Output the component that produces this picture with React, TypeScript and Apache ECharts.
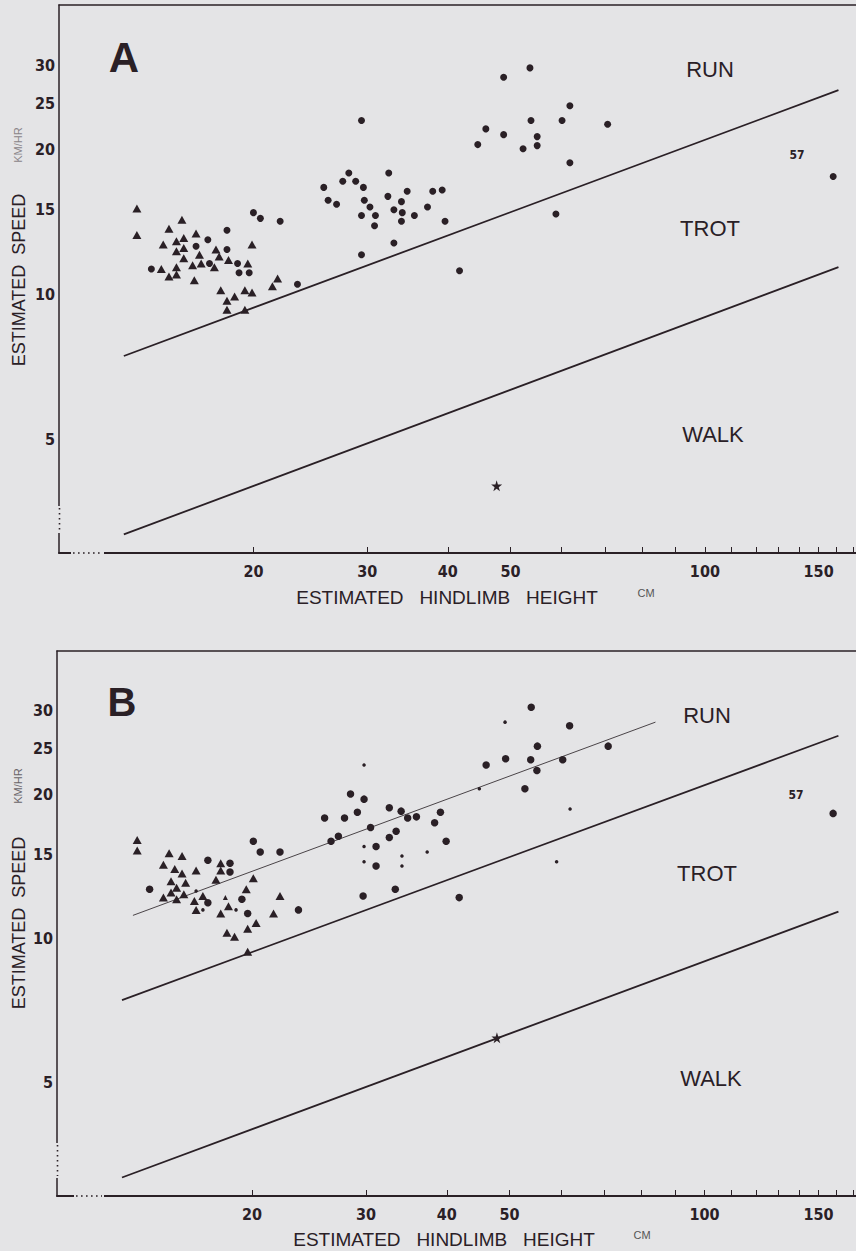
import React, { useEffect, useRef } from 'react';
import * as echarts from 'echarts';

// ---- axis ticks ----
const xTickLabels = [20, 30, 40, 50, 100, 150];
const xTickMarks = [20, 30, 40, 50, 60, 70, 80, 90, 100, 110, 120, 130, 140, 150, 160, 170];
const yTickLabels = [5, 10, 15, 20, 25, 30];

// ---- panel A ----
const aTriangles = [
  [13.2, 15.1], [15.5, 14.3], [14.8, 13.7], [13.2, 13.3], [16.3, 13.4], [15.6, 13.1], [15.2, 12.9],
  [14.5, 12.7], [15.6, 12.5], [15.2, 12.3], [17.5, 12.4], [16.5, 12.1], [15.6, 11.9], [17.7, 12.0],
  [18.3, 11.8], [16.1, 11.5], [16.6, 11.6], [15.2, 11.4], [14.4, 11.3], [17.4, 11.4], [19.6, 11.6],
  [14.8, 10.9], [15.2, 11.0], [16.2, 10.7], [19.9, 12.7], [21.8, 10.8], [21.4, 10.4], [17.8, 10.2],
  [19.4, 10.2], [19.9, 10.1], [18.7, 9.9], [18.2, 9.7], [18.2, 9.3], [19.4, 9.3],
];
const aCircles = [
  [20.0, 14.8], [20.5, 14.4], [22.0, 14.2], [18.2, 13.6], [17.0, 13.0], [16.3, 12.6], [18.2, 12.4],
  [17.1, 11.6], [18.9, 11.6], [13.9, 11.3], [19.0, 11.1], [19.7, 11.1], [23.4, 10.5],
  [29.4, 23.0], [28.1, 17.9], [32.4, 17.9], [27.5, 17.2], [28.8, 17.2], [29.6, 16.7], [25.7, 16.7],
  [34.6, 16.4], [37.9, 16.4], [39.2, 16.5], [26.1, 15.7], [26.9, 15.4], [29.7, 15.7], [32.3, 16.0],
  [33.9, 15.6], [30.3, 15.2], [33.0, 15.0], [34.0, 14.8], [37.2, 15.2], [29.4, 14.6], [30.9, 14.6],
  [35.5, 14.6], [33.9, 14.2], [30.8, 13.9], [39.6, 14.2], [33.0, 12.8], [29.4, 12.1], [41.7, 11.2],
  [53.6, 29.6], [48.8, 28.3], [61.8, 24.7], [53.8, 23.0], [60.1, 23.0], [70.7, 22.6], [45.8, 22.1],
  [48.8, 21.5], [55.0, 21.3], [44.5, 20.5], [55.0, 20.4], [52.3, 20.1], [61.8, 18.8], [58.8, 14.7],
  [158, 17.6],
];
const aStar = [[47.6, 4.0]];

// ---- panel B ----
const bTriangles = [
  [13.3, 16.1], [13.3, 15.3], [14.9, 15.1], [15.6, 14.9], [14.6, 14.3], [15.2, 14.0], [15.6, 13.7],
  [16.4, 13.9], [17.9, 14.4], [17.9, 13.9], [15.0, 13.2], [15.8, 13.1], [17.6, 13.3], [15.3, 12.8],
  [15.0, 12.5], [15.7, 12.4], [14.6, 12.2], [15.3, 12.1], [16.8, 12.3], [16.3, 12.0], [16.4, 11.5],
  [17.9, 11.3], [18.4, 11.7], [20.1, 13.4], [19.6, 12.7], [22.1, 12.3], [21.6, 11.3], [19.7, 10.5],
  [20.3, 10.8], [18.3, 10.3], [18.8, 10.1], [19.7, 9.4],
];
const bSmallTriangles = [[18.2, 12.2]];
const bCircles = [
  [20.1, 16.0], [20.6, 15.2], [22.1, 15.2], [17.1, 14.6], [18.5, 14.4], [18.5, 13.8], [13.9, 12.7],
  [17.1, 11.9], [19.3, 12.1], [19.7, 11.3], [23.6, 11.5],
  [28.4, 20.1], [29.8, 19.6], [32.6, 18.8], [34.0, 18.5], [25.9, 17.9], [27.8, 17.9], [29.1, 18.4],
  [34.8, 17.9], [35.9, 18.0], [39.1, 18.4], [30.5, 17.1], [38.3, 17.5], [27.2, 16.4], [26.5, 16.0],
  [33.4, 16.8], [32.6, 16.3], [39.9, 16.0], [31.1, 15.6], [31.1, 14.2], [33.3, 12.7], [29.7, 12.3],
  [41.8, 12.2],
  [54.0, 30.5], [61.9, 27.9], [55.2, 25.3], [71.0, 25.3], [46.0, 23.1], [49.3, 23.8], [53.9, 23.7],
  [60.4, 23.7], [55.1, 22.5], [52.8, 20.6], [158, 18.3],
];
const bSmallDots = [
  [16.4, 12.6], [16.8, 11.5], [18.9, 11.5], [29.8, 23.1], [29.8, 15.6], [29.8, 14.5], [34.1, 14.9],
  [34.1, 14.2], [37.3, 15.2], [49.2, 28.4], [44.9, 20.6], [62.0, 18.7], [59.1, 14.5],
];
const bStar = [[47.8, 6.21]];

// ---- boundary / fitted lines ----
const runTrotLine = [[12.6, 7.45], [161, 26.6]];
const trotWalkLine = [[12.6, 3.17], [161, 11.4]];
const bFitLine = [[13.1, 11.2], [84, 28.4]];

const INK = '#2a2026';
const BG = '#e4e4e6';
const NARROW = "'Liberation Sans Narrow', 'DejaVu Sans Condensed', 'Arial Narrow', sans-serif";
const SANS = "'Liberation Sans', Arial, Helvetica, sans-serif";
const STAR = 'path://M50,0 L61,35 L98,35 L68,57 L79,91 L50,70 L21,91 L32,57 L2,35 L39,35 Z';
const X_MAX = 172;

function makeXAxis(gridIndex: number) {
  return {
    type: 'log', logBase: 10, gridIndex, min: 10, max: X_MAX, position: 'bottom',
    axisLine: { show: true, lineStyle: { color: INK, width: 2 } },
    axisTick: { show: true, inside: true, length: 6, customValues: xTickMarks, lineStyle: { color: INK, width: 1 } },
    axisLabel: {
      show: true, customValues: xTickLabels, margin: 10, color: INK,
      fontSize: 16, fontWeight: 'bold', fontFamily: NARROW,
    },
    splitLine: { show: false }, minorTick: { show: false },
  };
}
function makeTopFrame(gridIndex: number) {
  return {
    type: 'log', logBase: 10, gridIndex, min: 10, max: X_MAX, position: 'top',
    axisLine: { show: true, lineStyle: { color: INK, width: 1.5 } },
    axisTick: { show: false }, axisLabel: { show: false },
    splitLine: { show: false }, minorTick: { show: false },
  };
}
function makeYAxis(gridIndex: number) {
  return {
    type: 'log', logBase: 10, gridIndex, min: 2.9, max: 40,
    axisLine: { show: true, lineStyle: { color: INK, width: 1.5 } },
    axisTick: { show: false },
    axisLabel: {
      show: true, customValues: yTickLabels, margin: 4, color: INK,
      fontSize: 16, fontWeight: 'bold', fontFamily: NARROW,
    },
    splitLine: { show: false },
  };
}

function scatter(data: number[][], idx: number, symbol: string, size: any) {
  return {
    type: 'scatter', xAxisIndex: idx, yAxisIndex: idx, data, symbol, symbolSize: size,
    itemStyle: { color: INK, opacity: 1 }, silent: true, z: 5,
  };
}
function line(data: number[][], idx: number, width: number, color: string) {
  return {
    type: 'line', xAxisIndex: idx, yAxisIndex: idx, data, showSymbol: false, symbol: 'none',
    lineStyle: { color, width }, silent: true, z: 3,
  };
}

function txt(text: string, x: number, y: number, size: number, opts: any = {}) {
  return {
    type: 'text', x, y, z: 100, rotation: opts.rotation || 0,
    style: {
      text, fill: opts.color || INK, fontSize: size, fontFamily: opts.family || SANS,
      fontWeight: opts.weight || 'normal', align: 'center', verticalAlign: 'middle',
    },
  };
}

function axisBreaks(axisX: number, gapTop: number, gapBottom: number, baseY: number, gapLeft: number, gapRight: number) {
  return [
    { type: 'rect', z: 100, shape: { x: axisX - 3, y: gapTop, width: 6, height: gapBottom - gapTop }, style: { fill: BG } },
    { type: 'line', z: 101, shape: { x1: axisX, y1: gapTop + 2, x2: axisX, y2: gapBottom - 2 }, style: { stroke: INK, lineWidth: 1.6, lineDash: [1.6, 3.4] } },
    { type: 'rect', z: 100, shape: { x: gapLeft, y: baseY - 3, width: gapRight - gapLeft, height: 6 }, style: { fill: BG } },
    { type: 'line', z: 101, shape: { x1: gapLeft + 2, y1: baseY, x2: gapRight - 2, y2: baseY }, style: { stroke: INK, lineWidth: 1.6, lineDash: [1.6, 3.4] } },
  ];
}

export default function App() {
  const ref = useRef<HTMLDivElement>(null);
  useEffect(() => {
    const chart = echarts.init(ref.current!, null, { renderer: 'svg' });
    const option: any = {
      animation: false,
      backgroundColor: BG,
      grid: [
        { left: 59, top: 5, width: 798, height: 548, show: false, containLabel: false, outerBoundsMode: 'none' },
        { left: 57, top: 651, width: 800, height: 545, show: false, containLabel: false, outerBoundsMode: 'none' },
      ],
      xAxis: [makeXAxis(0), makeXAxis(1), makeTopFrame(0), makeTopFrame(1)],
      yAxis: [makeYAxis(0), makeYAxis(1)],
      series: [
        line(runTrotLine, 0, 1.8, INK),
        line(trotWalkLine, 0, 1.8, INK),
        scatter(aTriangles, 0, 'triangle', [9, 8]),
        scatter(aCircles, 0, 'circle', 7),
        scatter(aStar, 0, STAR, 11),
        line(runTrotLine, 1, 1.8, INK),
        line(trotWalkLine, 1, 1.8, INK),
        line(bFitLine, 1, 1, '#4a4448'),
        scatter(bTriangles, 1, 'triangle', [9, 8]),
        scatter(bSmallTriangles, 1, 'triangle', [5, 5]),
        scatter(bCircles, 1, 'circle', 7.5),
        scatter(bSmallDots, 1, 'circle', 3.5),
        scatter(bStar, 1, STAR, 11),
      ],
      graphic: [
        txt('A', 124, 57, 42, { weight: 'bold' }),
        txt('B', 122, 702, 40, { weight: 'bold' }),
        txt('RUN', 710, 69, 22),
        txt('TROT', 710, 228, 22),
        txt('WALK', 713, 434, 22),
        txt('57', 797, 155, 12, { family: NARROW, weight: 'bold' }),
        txt('RUN', 707, 715, 22),
        txt('TROT', 707, 873, 22),
        txt('WALK', 711, 1078, 22),
        txt('57', 796, 795, 12, { family: NARROW, weight: 'bold' }),
        txt('ESTIMATED  SPEED', 19, 280, 18, { rotation: Math.PI / 2 }),
        txt('KM/HR', 18, 145, 11, { rotation: Math.PI / 2, color: '#8a8589' }),
        txt('ESTIMATED  SPEED', 19, 923, 18, { rotation: Math.PI / 2 }),
        txt('KM/HR', 18, 786, 11, { rotation: Math.PI / 2, color: '#6a6569' }),
        txt('ESTIMATED   HINDLIMB   HEIGHT', 447, 597, 19),
        txt('CM', 646, 593, 11, { color: '#555' }),
        txt('ESTIMATED   HINDLIMB   HEIGHT', 444, 1239, 19),
        txt('CM', 642, 1235, 11, { color: '#555' }),
        ...axisBreaks(59.5, 506, 533, 553, 71, 104),
        ...axisBreaks(57.5, 1143, 1178, 1196, 74, 104),
      ],
    };
    chart.setOption(option);
    return () => chart.dispose();
  }, []);
  return (
    <div
      ref={ref}
      style={{ position: 'absolute', left: 0, top: 0, width: 856, height: 1251, background: BG }}
    />
  );
}
